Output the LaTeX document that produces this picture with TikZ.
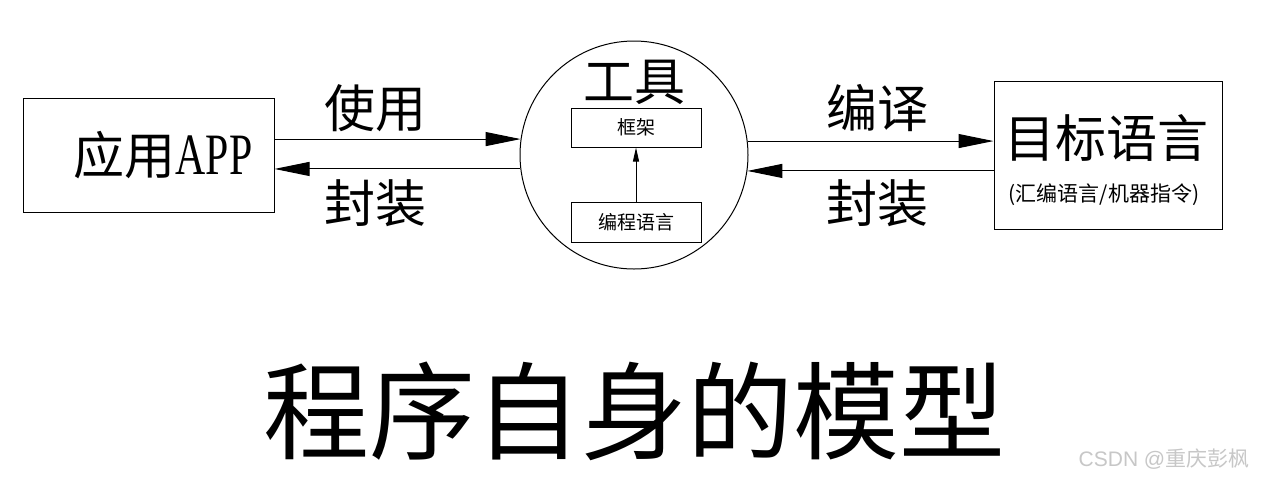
\documentclass[tikz,border=0pt]{standalone}
\usepackage{fontspec}
\usepackage{graphicx}
\setmainfont{Liberation Serif}
\newfontfamily\cjk{Noto Sans CJK SC}
\usetikzlibrary{arrows.meta}
\tikzset{
  box/.style={draw, line width=1pt, inner sep=0pt},
  big/.style={font=\cjk\fontsize{51}{58}\selectfont, inner sep=0pt},
  small/.style={font=\cjk\fontsize{19}{22}\selectfont, inner sep=0pt},
  arr/.style={line width=1pt, -{Triangle[length=35pt,width=14pt]}},
  uparr/.style={line width=1pt, -{Triangle[length=14pt,width=6pt]}}
}
\begin{document}
\begin{tikzpicture}[x=1pt,y=-1pt]
\useasboundingbox (0,0) rectangle (1263,483);
\fill[white] (0,0) rectangle (1263,483);
% boxes
\node[box, minimum width=251pt, minimum height=114pt] (app) at (148.5,155) {};
\node[big] (apptext) at (163,155) {应用\fontspec{Liberation Serif}\scalebox{0.82}[1.15]{APP}};
\node[box, circle, minimum size=228pt] (tool) at (634,155) {};
\node[big] (tooltext) at (634,82) {工具};
\node[box, minimum width=130pt, minimum height=39pt, small] (fw) at (636,127.5) {框架};
\node[box, minimum width=130pt, minimum height=40pt, small] (pl) at (636,222) {编程语言};
\node[box, minimum width=228pt, minimum height=148pt] (tgt) at (1108,155) {};
\node[big] (tgttext) at (1106,138) {目标语言};
\node[font=\cjk\fontsize{21}{24}\selectfont, inner sep=0pt] (tgtsub) at (1104,195) {(汇编语言/机器指令)};
% connectors
\draw[arr] (app.east |- tool.172.5) -- (tool.172.5);
\draw[arr] (tool.187.5) -- (app.east |- tool.187.5);
\draw[arr] (tool.7.5) -- (tgt.west |- tool.7.5);
\draw[arr] (tgt.west |- tool.352.5) -- (tool.352.5);
\draw[uparr] (pl.north) -- (fw.south);
% labels
\node[big] (use) at (375,108) {使用};
\node[big] (pack1) at (375,203) {封装};
\node[big] (comp) at (877,108) {编译};
\node[big] (pack2) at (877,203) {封装};
% title
\node[font=\cjk\fontsize{106}{120}\selectfont, inner sep=0pt] (title) at (634,411) {程序自身的模型};
\node[font=\cjk\fontsize{21}{24}\selectfont, text=black!22, inner sep=0pt] (wm) at (1164,459) {\fontspec{Liberation Sans}CSDN @\cjk 重庆彭枫};
\end{tikzpicture}
\end{document}
